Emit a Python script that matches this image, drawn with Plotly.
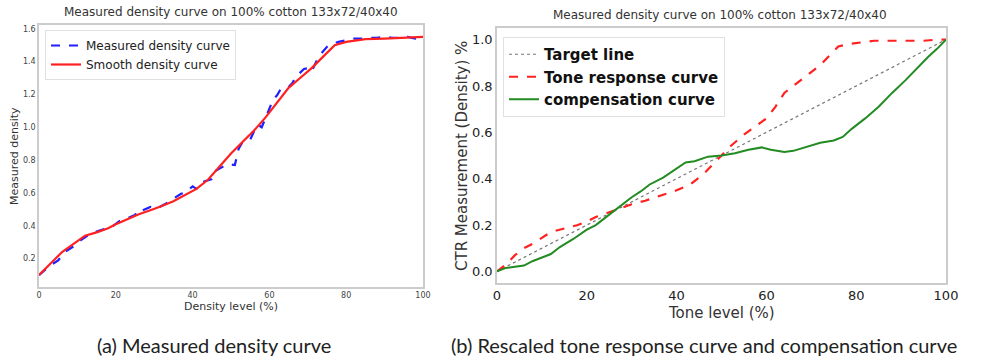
import plotly.graph_objects as go

# ---- data: panel (a)
meas_x = [0,1,3,5,7,9,11,13,15,17,19,21,23,25,26,27,29,30,31,33,34,36,37,38,40,41,42,43,45,46,47,49,51,52,53,55,56,57,58,59,61,62,63,65,66,67,69,70,71,72,73,75,76,78,80,82,84,86,88,90,92,94,96,98,100]
meas_y = [0.10,0.12,0.16,0.19,0.245,0.275,0.315,0.345,0.365,0.38,0.395,0.43,0.445,0.465,0.50,0.495,0.515,0.505,0.51,0.535,0.55,0.58,0.595,0.60,0.64,0.625,0.66,0.67,0.685,0.735,0.75,0.775,0.77,0.87,0.91,0.925,0.975,1.015,1.0,1.06,1.17,1.195,1.235,1.245,1.27,1.31,1.355,1.36,1.34,1.39,1.435,1.49,1.505,1.52,1.53,1.54,1.54,1.545,1.545,1.55,1.545,1.545,1.55,1.54,1.55]
smooth_x = [0,3,6,9,12,15,18,20,23,26,29,32,35,38,41,44,47,50,53,56,59,62,65,68,71,74,77,80,85,90,95,100]
smooth_y = [0.10,0.17,0.24,0.29,0.34,0.36,0.385,0.41,0.44,0.47,0.495,0.52,0.55,0.59,0.625,0.68,0.76,0.84,0.91,0.98,1.06,1.15,1.24,1.30,1.36,1.43,1.50,1.52,1.537,1.54,1.545,1.55]

# ---- data: panel (b)
target_x = [0, 100]
target_y = [0.0, 1.0]
tone_x = [0,2,4,6,8,10,12,15,18,20,22,25,28,30,33,36,40,43,46,48,50,52,55,58,60,62,64,66,68,70,72,74,76,78,80,84,90,95,98,100]
tone_y = [0.0,0.03,0.07,0.10,0.12,0.145,0.17,0.185,0.20,0.215,0.235,0.255,0.275,0.29,0.305,0.325,0.35,0.375,0.42,0.46,0.50,0.54,0.59,0.63,0.66,0.71,0.77,0.80,0.83,0.86,0.89,0.93,0.97,0.98,0.985,0.995,0.995,0.995,1.0,1.0]
comp_x = [0,2,4,6,8,10,12,14,17,20,22,25,28,30,32,34,37,40,42,44,47,50,53,56,59,61,64,66,69,72,75,77,79,82,85,88,91,94,96,98,100]
comp_y = [0.0,0.015,0.02,0.025,0.045,0.06,0.075,0.105,0.14,0.18,0.20,0.245,0.29,0.32,0.345,0.375,0.405,0.445,0.47,0.475,0.495,0.50,0.51,0.525,0.535,0.525,0.515,0.52,0.537,0.555,0.565,0.58,0.615,0.66,0.71,0.77,0.825,0.885,0.925,0.96,1.0]

title_txt = "Measured density curve on 100% cotton 133x72/40x40"
cap_a = "(a) Measured density curve"
cap_b = "(b) Rescaled tone response curve and compensation curve"

W, H = 985, 362
def px(x): return x / W
def py(y): return 1 - y / H

fig = go.Figure()
fig.add_trace(go.Scatter(x=meas_x, y=meas_y, mode="lines", name="Measured density curve",
                         line=dict(color="#1f1fff", width=2.2, dash="dash"), xaxis="x", yaxis="y", legend="legend"))
fig.add_trace(go.Scatter(x=smooth_x, y=smooth_y, mode="lines", name="Smooth density curve",
                         line=dict(color="#ff2020", width=2.2), xaxis="x", yaxis="y", legend="legend"))
fig.add_trace(go.Scatter(x=target_x, y=target_y, mode="lines", name="<b>Target line</b>",
                         line=dict(color="#777777", width=1.2, dash="dot"), xaxis="x2", yaxis="y2", legend="legend2"))
fig.add_trace(go.Scatter(x=tone_x, y=tone_y, mode="lines", name="<b>Tone response curve</b>",
                         line=dict(color="#ff2020", width=2.2, dash="dash"), xaxis="x2", yaxis="y2", legend="legend2"))
fig.add_trace(go.Scatter(x=comp_x, y=comp_y, mode="lines", name="<b>compensation curve</b>",
                         line=dict(color="#228b22", width=2), xaxis="x2", yaxis="y2", legend="legend2"))

axcommon = dict(showgrid=False, zeroline=False, showline=True, mirror=True, linecolor="#cccccc", linewidth=1.5,
                ticks="", automargin=False)
fig.update_layout(
    width=W, height=H, margin=dict(l=0, r=0, t=0, b=0, autoexpand=False),
    paper_bgcolor="white", plot_bgcolor="white", showlegend=True,
    font=dict(family="DejaVu Sans", color="#333333"),
    xaxis=dict(domain=[px(39), px(423)], range=[0, 100], tickvals=[0,20,40,60,80,100],
               tickfont=dict(size=8, color="#444"), anchor="y", **axcommon),
    yaxis=dict(domain=[py(287), py(25)], range=[0.0275, 1.6225], tickvals=[0.2,0.4,0.6,0.8,1.0,1.2,1.4,1.6],
               tickformat=".1f", tickfont=dict(size=8, color="#444"), anchor="x", **axcommon),
    xaxis2=dict(domain=[px(497), px(946)], range=[0, 100], tickvals=[0,20,40,60,80,100],
                tickfont=dict(size=13, color="#222"), anchor="y2", **axcommon),
    yaxis2=dict(domain=[py(283), py(28)], range=[-0.05, 1.05], tickvals=[0,0.2,0.4,0.6,0.8,1.0],
                tickformat=".1f", tickfont=dict(size=13, color="#222"), anchor="x2", **axcommon),
    legend=dict(x=px(45), y=py(30), xanchor="left", yanchor="top", bgcolor="rgba(255,255,255,0.9)",
                bordercolor="#e0e0e0", borderwidth=1, font=dict(size=12, color="#222"),
                tracegroupgap=0, itemwidth=30),
    legend2=dict(x=px(503), y=py(37), xanchor="left", yanchor="top", bgcolor="rgba(255,255,255,0.9)",
                 bordercolor="#e0e0e0", borderwidth=1, font=dict(size=15, color="#111"),
                 tracegroupgap=0, itemwidth=30),
)

ann = [
    dict(text=title_txt, x=px(231), y=py(12), size=12),
    dict(text=title_txt, x=px(720), y=py(15), size=12),
    dict(text="Density level (%)", x=px(231), y=py(306), size=11),
    dict(text="Measured density", x=px(14), y=py(156), size=11, angle=-90),
    dict(text="Tone level (%)", x=px(721), y=py(313), size=15),
    dict(text="CTR Measurement (Density) %", x=px(462), y=py(156), size=15, angle=-90),
]
for a in ann:
    fig.add_annotation(text=a["text"], x=a["x"], y=a["y"], xref="paper", yref="paper",
                       xanchor="center", yanchor="middle", showarrow=False,
                       textangle=a.get("angle", 0), font=dict(size=a["size"], color="#333333", family="DejaVu Sans"))
for t, xc in [(cap_a, 214), (cap_b, 704)]:
    fig.add_annotation(text=t, x=px(xc), y=py(345), xref="paper", yref="paper", xanchor="center", yanchor="middle",
                       showarrow=False, font=dict(size=20, color="#222222", family="Lato"))

fig.write_html("out.html", config={"displayModeBar": False},
               post_script="document.body.style.margin='0';document.body.style.overflow='hidden';")
